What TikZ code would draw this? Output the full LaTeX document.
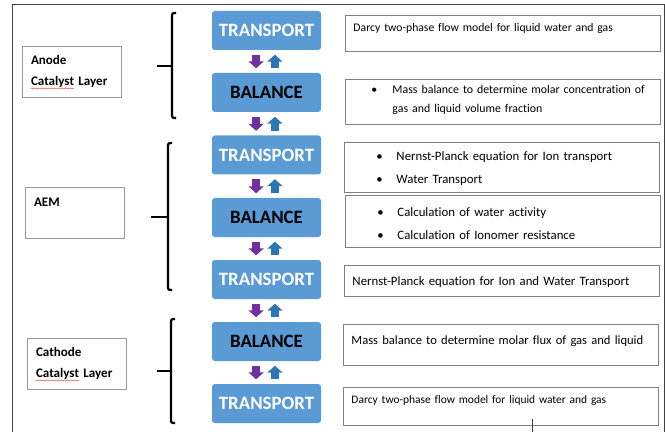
\documentclass[tikz,border=0pt]{standalone}
\usepackage{fontspec}
\setmainfont{Carlito}[Ligatures={NoCommon}]
\usepackage{tikz}
\usetikzlibrary{arrows.meta,decorations.pathmorphing}
\definecolor{stageblue}{HTML}{5B9BD5}
\definecolor{downpurple}{HTML}{7030A0}
\definecolor{upblue}{HTML}{2E75B6}
\definecolor{spellred}{HTML}{E06060}
\newcommand{\dotitem}[2]{\hspace*{#1}\makebox[#2][l]{\textbullet}}

\begin{document}
\begin{tikzpicture}[
  stage/.style={fill=stageblue, rounded corners=2pt, minimum width=2.725cm,
    minimum height=0.975cm, inner sep=0pt,
    font=\bfseries\fontsize{13.4}{16}\selectfont},
  transport/.style={stage, text=white},
  balance/.style={stage, text=black},
  layer/.style={draw=black!40, line width=0.6pt, minimum width=2.475cm,
    minimum height=1.275cm, text width=2.025cm, inner xsep=0.225cm,
    align=left, font=\bfseries\fontsize{9.3}{14.5}\selectfont},
  desc/.style={draw=black!50, line width=0.7pt, anchor=north west,
    text width=7.475cm, inner xsep=0.2cm, inner ysep=0pt, align=left,
    font=\fontsize{8.3}{13.5}\selectfont},
  bigdesc/.style={desc, font=\fontsize{9.1}{13.5}\selectfont},
  bracket/.style={line width=1.6pt, rounded corners=1.5pt},
  frame/.style={draw=black!75, line width=0.7pt},
  pushdown/.style={-{Triangle[width=0.375cm, length=0.175cm]},
    line width=0.2cm, downpurple, shorten <=1.1mm, shorten >=1.1mm},
  pushup/.style={-{Triangle[width=0.375cm, length=0.175cm]},
    line width=0.2cm, upblue, shorten <=1.1mm, shorten >=1.1mm},
  spell/.style={spellred, line width=0.4pt, decorate,
    decoration={snake, amplitude=0.35pt, segment length=2pt}}
]
\useasboundingbox (0,0) rectangle (16.625,-10.8);
\draw[frame] (0.3,-10.8) |- (16.6,-0.1) -- (16.6,-10.8);

% layers
\node[layer] (anode) at (1.7875,-1.7875) {Anode\\Catalyst Layer};
\node[layer] (aem) at (1.8625,-5.3125) {AEM\\\phantom{A}};
\node[layer] (cathode) at (1.9125,-9.0875) {Cathode\\Catalyst Layer};
\draw[spell] ([xshift=0.225cm, yshift=0.225cm]anode.south west) -- ++(1.09,0);
\draw[spell] ([xshift=0.225cm, yshift=0.225cm]cathode.south west) -- ++(1.09,0);

% brackets
\draw[bracket] (4.4,-0.325) -- (4.3,-0.325) -- (4.3,-2.95) -- (4.4,-2.95);
\draw[bracket] (3.925,-1.65) -- (4.3,-1.65);
\draw[bracket] (4.3,-3.575) -- (4.2,-3.575) -- (4.2,-7.25) -- (4.3,-7.25);
\draw[bracket] (3.775,-5.425) -- (4.2,-5.425);
\draw[bracket] (4.375,-7.975) -- (4.275,-7.975) -- (4.275,-10.575) -- (4.375,-10.575);
\draw[bracket] (3.925,-9.275) -- (4.275,-9.275);

% transport / balance chain
\node[transport] (tr1) at (6.6625,-0.7625) {TRANSPORT};
\node[balance] (bal1) at (6.6625,-2.3125) {BALANCE};
\node[transport] (tr2) at (6.6625,-3.875) {TRANSPORT};
\node[balance] (bal2) at (6.6625,-5.4375) {BALANCE};
\node[transport] (tr3) at (6.6625,-6.9875) {TRANSPORT};
\node[balance] (bal3) at (6.6625,-8.5375) {BALANCE};
\node[transport] (tr4) at (6.6625,-10.0875) {TRANSPORT};

\draw[pushdown] ([xshift=-2.6mm]tr1.south) -- ([xshift=-2.6mm]bal1.north);
\draw[pushup] ([xshift=2.1mm]bal1.north) -- ([xshift=2.1mm]tr1.south);
\draw[pushdown] ([xshift=-2.6mm]bal1.south) -- ([xshift=-2.6mm]tr2.north);
\draw[pushup] ([xshift=2.1mm]tr2.north) -- ([xshift=2.1mm]bal1.south);
\draw[pushdown] ([xshift=-2.6mm]tr2.south) -- ([xshift=-2.6mm]bal2.north);
\draw[pushup] ([xshift=2.1mm]bal2.north) -- ([xshift=2.1mm]tr2.south);
\draw[pushdown] ([xshift=-2.6mm]bal2.south) -- ([xshift=-2.6mm]tr3.north);
\draw[pushup] ([xshift=2.1mm]tr3.north) -- ([xshift=2.1mm]bal2.south);
\draw[pushdown] ([xshift=-2.6mm]tr3.south) -- ([xshift=-2.6mm]bal3.north);
\draw[pushup] ([xshift=2.1mm]bal3.north) -- ([xshift=2.1mm]tr3.south);
\draw[pushdown] ([xshift=-2.6mm]bal3.south) -- ([xshift=-2.6mm]tr4.north);
\draw[pushup] ([xshift=2.1mm]tr4.north) -- ([xshift=2.1mm]bal3.south);

% model descriptions
\node[desc, text height=0.4cm, text depth=0.5cm] (darcya) at (8.625,-0.375)
  {Darcy two-phase flow model for liquid water and gas};
\node[desc, font=\fontsize{8.45}{13.5}\selectfont, text height=0.35cm,
  text depth=0.775cm] (massconc) at (8.625,-1.975)
  {\dotitem{0.45cm}{0.525cm}Mass balance to determine molar concentration of\\
   \hspace*{0.975cm}gas and liquid volume fraction};
\node[bigdesc, text height=0.45cm, text depth=0.8cm] (nernst) at (8.6,-3.55)
  {\dotitem{0.6cm}{0.5cm}Nernst-Planck equation for Ion transport\\[2.8pt]
   \dotitem{0.6cm}{0.5cm}Water Transport};
\node[bigdesc, text height=0.525cm, text depth=0.775cm] (activity) at (8.625,-4.875)
  {\dotitem{0.6cm}{0.5cm}Calculation of water activity\\[2.8pt]
   \dotitem{0.6cm}{0.5cm}Calculation of Ionomer resistance};
\node[bigdesc, text height=0.5cm, text depth=0.275cm] (nernstiw) at (8.6,-6.625)
  {Nernst-Planck equation for Ion and Water Transport};
\node[bigdesc, font=\fontsize{8.95}{13.5}\selectfont, text height=0.5cm,
  text depth=0.525cm] (molflux) at (8.575,-8.1)
  {Mass balance to determine molar flux of gas and liquid};
\node[desc, font=\fontsize{8.15}{13.5}\selectfont, text height=0.4cm,
  text depth=0.55cm] (darcyc) at (8.575,-9.675)
  {Darcy two-phase flow model for liquid water and gas};

\coordinate (cursor) at (13.3,-10.8);
\draw[frame, line width=0.5pt] (cursor) -- ++(0,0.325);
\end{tikzpicture}
\end{document}
